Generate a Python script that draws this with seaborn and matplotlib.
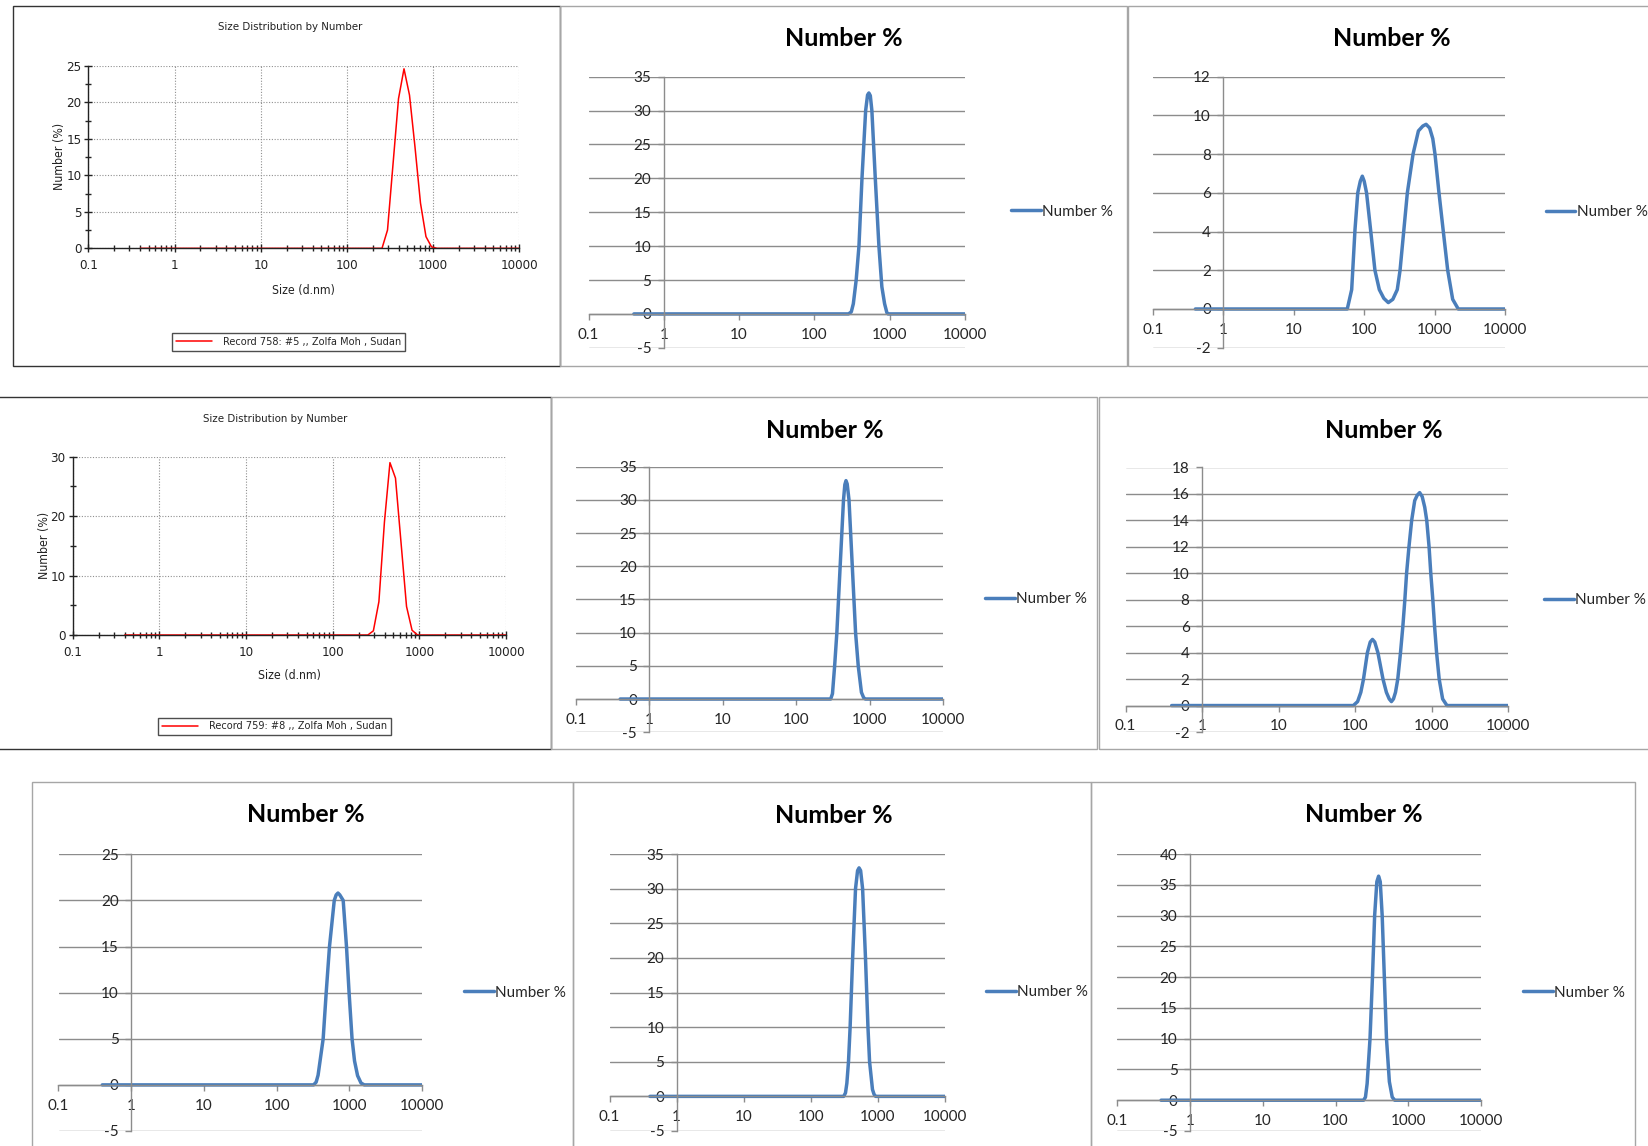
import matplotlib
matplotlib.use("Agg")
import numpy as np
import pandas as pd
import matplotlib.pyplot as plt
import seaborn as sns
from matplotlib import font_manager as fm
from matplotlib.lines import Line2D
from matplotlib.patches import Rectangle
from matplotlib.ticker import MultipleLocator, LogLocator, NullLocator, NullFormatter

sns.set_theme(style="white")
plt.rcParams["font.family"] = ["Lato", "DejaVu Sans"]
plt.rcParams["axes.unicode_minus"] = False

# Malvern screenshots use a narrow Arial; take a condensed face if one is installed
NARROW = {"family": ["Liberation Sans", "DejaVu Sans"], "stretch": "normal", "scale": 0.85}
_names = {f.name for f in fm.fontManager.ttflist}
if "Liberation Sans Narrow" in _names:
    NARROW = {"family": ["Liberation Sans Narrow", "DejaVu Sans"], "stretch": "normal", "scale": 1.0}
else:
    for f in fm.fontManager.ttflist:
        if f.stretch in ("condensed", "semi-condensed") and f.style == "normal" and f.weight in (400, "normal", "regular"):
            NARROW = {"family": [f.name, "DejaVu Sans"], "stretch": f.stretch, "scale": 1.0}
            break

# --- data (size in d.nm, number %) ---
# Malvern software plots
rec758_size = [0.4, 255.0, 295.3, 342.0, 396.1, 458.7, 531.2, 615.1, 712.4, 825.0, 955.4, 1106, 10000]
rec758_pct = [0, 0, 2.5, 11.5, 20.5, 24.6, 21.0, 13.9, 6.2, 1.6, 0.2, 0, 0]
rec759_size = [0.4, 255.0, 295.3, 342.0, 396.1, 458.7, 531.2, 615.1, 712.4, 825.0, 955.4, 10000]
rec759_pct = [0, 0, 0.7, 5.6, 19.0, 29.0, 26.4, 15.6, 4.8, 0.8, 0, 0]

# Excel re-plots ("Number %")
r1c2_size = [0.4, 285, 310, 330, 360, 392, 430, 481, 510, 531, 555, 582, 646, 722, 790, 859, 920, 955, 10000]
r1c2_pct = [0, 0, 0.3, 1.5, 5, 10, 20, 30, 32.3, 32.6, 32.2, 30, 20, 10, 4, 1.5, 0.2, 0, 0]

r1c3_size = [0.4, 57.5, 66.4, 74, 81, 88, 94, 100, 108, 124, 142, 164, 190, 220, 255, 295, 323, 364,
             410, 494, 589, 680, 757, 850, 942, 1013, 1154, 1330, 1535, 1806, 2168, 10000]
r1c3_pct = [0, 0, 1.0, 4.1, 6.0, 6.6, 6.86, 6.6, 6.0, 4.0, 2.0, 1.0, 0.55, 0.33, 0.5, 1.0, 2.0, 4.0,
            6.0, 8.0, 9.2, 9.45, 9.54, 9.35, 8.8, 8.0, 6.0, 4.0, 2.0, 0.5, 0, 0]

r2c2_size = [0.4, 295, 312, 334, 358, 397, 441, 460, 477, 495, 524, 581, 644, 700, 774, 830, 876, 10000]
r2c2_pct = [0, 0, 0.8, 5, 10, 20, 30, 32.3, 32.9, 32.4, 30, 20, 10, 5, 1, 0.2, 0, 0]

r2c3_size = [0.4, 95, 108, 119, 129, 145, 158, 169, 181, 199, 232, 257, 280, 299, 318, 338, 362, 393,
             422, 448, 472, 507, 550, 603, 650, 700, 755, 815, 866, 929, 978, 1040, 1096, 1165, 1259,
             1397, 1592, 10000]
r2c3_pct = [0, 0, 0.3, 1, 2, 4, 4.8, 5.0, 4.8, 4, 2, 1, 0.5, 0.3, 0.5, 1, 2, 4,
            6, 8, 10, 12, 14, 15.5, 15.9, 16.1, 15.8, 15, 14, 12, 10, 8, 6, 4, 2,
            0.5, 0, 0]

r3c1_size = [0.4, 323, 350, 372, 437, 481, 534, 621, 660, 699, 740, 824, 915, 993, 1091, 1180, 1300, 1450, 1607, 10000]
r3c1_pct = [0, 0, 0.3, 1.05, 5, 10, 15, 20, 20.6, 20.8, 20.6, 20, 15, 10, 5, 2.6, 1, 0.2, 0, 0]

r3c2_size = [0.4, 310, 330, 346, 366, 387, 422, 466, 500, 526, 555, 594, 656, 714, 755, 834, 880, 931, 10000]
r3c2_pct = [0, 0, 0.5, 1.9, 5, 10, 20, 30, 32.6, 33.0, 32.6, 30, 20, 10, 5, 1, 0.3, 0, 0]

r3c3_size = [0.4, 243, 258, 272, 298, 322, 345, 370, 391, 412, 438, 469, 502, 550, 602, 652, 10000]
r3c3_pct = [0, 0, 0.5, 2.7, 10, 20, 30, 35.5, 36.4, 35.5, 30, 20, 10, 3, 0.5, 0, 0]

xticks = [0.1, 1, 10, 100, 1000, 10000]
xticklabels = ["0.1", "1", "10", "100", "1000", "10000"]

W, H = 1648, 1146
fig = plt.figure(figsize=(W / 100, H / 100), dpi=100)
fig.patch.set_facecolor("white")

BLUE = "#4A7EBB"
GRAY = "#8c8c8c"
DARK = "#222222"


def add_ax(l, r, t, b):
    return fig.add_axes([l / W, 1 - b / H, (r - l) / W, (b - t) / H])


def border(l, t, r, b, color, lw=1.0):
    fig.add_artist(Rectangle((l / W, 1 - b / H), (r - l) / W, (b - t) / H,
                             transform=fig.transFigure, fill=False, ec=color, lw=lw))


def ntext(x, y, s, size, **kw):
    fig.text(x / W, 1 - y / H, s, ha="center", va="center", color=DARK,
             fontsize=size * NARROW["scale"], family=NARROW["family"],
             fontstretch=NARROW["stretch"], **kw)


def malvern_panel(box, sizes, pct, ymax, ymajor, title, tpos, xlpos, ylpos, legend_text, legpos):
    ax = add_ax(*box)
    df = pd.DataFrame({"size": sizes, "pct": pct})
    sns.lineplot(data=df, x="size", y="pct", ax=ax, color="red", linewidth=1.1,
                 estimator=None, sort=False)
    ax.set_xscale("log")
    ax.set_xlim(0.1, 10000)
    ax.set_ylim(0, ymax)
    ax.set_xticks(xticks, labels=xticklabels)
    ax.xaxis.set_minor_locator(LogLocator(base=10, subs=np.arange(2, 10)))
    ax.xaxis.set_minor_formatter(NullFormatter())
    ax.yaxis.set_major_locator(MultipleLocator(ymajor))
    ax.yaxis.set_minor_locator(MultipleLocator(ymajor / 2))
    ax.set_xlabel("")
    ax.set_ylabel("")
    ax.grid(True, which="major", color="#909090", linestyle=(0, (1, 1.5)), linewidth=0.8)
    for s in ["top", "right"]:
        ax.spines[s].set_visible(False)
    for s in ["left", "bottom"]:
        ax.spines[s].set_color(DARK)
        ax.spines[s].set_linewidth(1.0)
    ax.tick_params(which="major", direction="inout", length=6, width=1, color=DARK,
                   labelsize=9.5 * NARROW["scale"], pad=2, left=True, bottom=True,
                   labelcolor=DARK)
    ax.tick_params(axis="x", which="major", pad=5)
    ax.tick_params(which="minor", direction="inout", length=4, width=1, color=DARK,
                   left=True, bottom=True)
    for lab in ax.get_xticklabels() + ax.get_yticklabels():
        lab.set_family(NARROW["family"])
        lab.set_fontstretch(NARROW["stretch"])
    ntext(tpos[0], tpos[1], title, 8.2)
    ntext(xlpos[0], xlpos[1], "Size (d.nm)", 8.8)
    ntext(ylpos[0], ylpos[1], "Number (%)", 8.8, rotation=90)
    h = Line2D([], [], color="red", linewidth=1.1)
    leg = ax.legend([h], [legend_text], loc="center",
                    bbox_to_anchor=(legpos[0] / W, 1 - legpos[1] / H),
                    bbox_transform=fig.transFigure, frameon=True, fancybox=False,
                    handlelength=3.4, handletextpad=1.0, borderpad=0.35,
                    prop={"family": NARROW["family"], "stretch": NARROW["stretch"],
                          "size": 7.8 * NARROW["scale"]})
    leg.get_frame().set_edgecolor(DARK)
    leg.get_frame().set_linewidth(1.0)
    return ax


def excel_panel(box, sizes, pct, ylo, yhi, ystep, tpos, legpos):
    ax = add_ax(*box)
    df = pd.DataFrame({"size": sizes, "pct": pct})
    sns.lineplot(data=df, x="size", y="pct", ax=ax, color=BLUE, linewidth=2.5,
                 estimator=None, sort=False)
    ax.set_xscale("log")
    ax.set_xlim(0.1, 10000)
    ax.set_ylim(ylo, yhi)
    ax.set_xticks(xticks, labels=xticklabels)
    ax.xaxis.set_minor_locator(NullLocator())
    ax.set_yticks(np.arange(ylo, yhi + ystep / 2, ystep))
    ax.set_xlabel("")
    ax.set_ylabel("")
    ax.yaxis.grid(True, color=GRAY, linewidth=1.0)
    ax.xaxis.grid(False)
    ax.set_axisbelow(True)
    for s in ["top", "right"]:
        ax.spines[s].set_visible(False)
    ax.spines["left"].set_position(("data", 1))
    ax.spines["bottom"].set_position(("data", 0))
    for s in ["left", "bottom"]:
        ax.spines[s].set_color(GRAY)
        ax.spines[s].set_linewidth(1.0)
    ax.tick_params(axis="x", direction="out", length=4, width=1, color=GRAY,
                   labelsize=11, pad=6, bottom=True)
    ax.tick_params(axis="y", direction="out", length=4, width=1, color=GRAY,
                   labelsize=11, pad=5, left=True)
    fig.text(tpos[0] / W, 1 - tpos[1] / H, "Number %", ha="center", va="center",
             fontsize=18, fontweight="bold", color="black")
    h = Line2D([], [], color=BLUE, linewidth=2.5)
    ax.legend([h], ["Number %"], loc="center left",
              bbox_to_anchor=(legpos[0] / W, 1 - legpos[1] / H),
              bbox_transform=fig.transFigure, frameon=False,
              handlelength=1.95, handletextpad=0.1, borderpad=0, borderaxespad=0,
              fontsize=11)
    return ax


# panel frames
border(12.6, 6.3, 560, 365.7, "#333333")
border(560, 6.3, 1127, 365.7, "#a6a6a6")
border(1128, 6.3, 1700, 365.7, "#a6a6a6")
border(-5, 397, 551, 749, "#333333")
border(551, 397, 1097, 749, "#a6a6a6")
border(1099, 397, 1700, 749, "#a6a6a6")
border(32, 782, 573, 1200, "#a6a6a6")
border(573, 782, 1091, 1200, "#a6a6a6")
border(1091, 782, 1635.4, 1200, "#a6a6a6")

# row 1
malvern_panel((88.3, 519.4, 65.9, 248.3), rec758_size, rec758_pct, 25, 5,
              "Size Distribution by Number", (290, 27.3), (303.6, 290.7), (60, 156.7),
              "Record 758: #5 ,, Zolfa Moh , Sudan", (288.5, 342))
excel_panel((588.6, 964.8, 76.7, 347.8), r1c2_size, r1c2_pct, -5, 35, 5, (844, 38.3), (1011, 211.7))
excel_panel((1153, 1505, 76.7, 347.7), r1c3_size, r1c3_pct, -2, 12, 2, (1392, 38.3), (1545.7, 212))

# row 2
malvern_panel((72.5, 506, 456.7, 635), rec759_size, rec759_pct, 30, 10,
              "Size Distribution by Number", (275, 419.3), (289, 675.7), (44.6, 545),
              "Record 759: #8 ,, Zolfa Moh , Sudan", (274.5, 726.4))
excel_panel((576, 943, 466.7, 732.2), r2c2_size, r2c2_pct, -5, 35, 5, (825, 430), (985, 599))
excel_panel((1125.6, 1508, 467.5, 732), r2c3_size, r2c3_pct, -2, 18, 2, (1384, 430), (1544, 600))

# row 3
excel_panel((58.5, 422, 854.3, 1131), r3c1_size, r3c1_pct, -5, 25, 5, (305.7, 815), (464, 992.7))
excel_panel((609.6, 944.8, 854, 1131), r3c2_size, r3c2_pct, -5, 35, 5, (833.4, 815.6), (985.8, 992))
excel_panel((1117.3, 1481, 854, 1131), r3c3_size, r3c3_pct, -5, 40, 5, (1363.6, 815), (1523, 992.7))

fig.savefig("out.png", dpi=100, facecolor="white")
